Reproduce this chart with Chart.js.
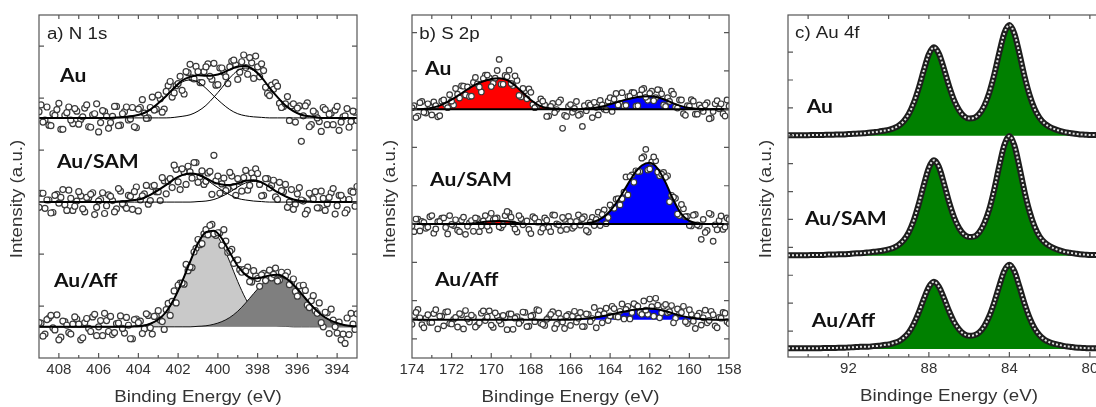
<!DOCTYPE html>
<html>
<head>
<meta charset="utf-8">
<script src="https://cdn.jsdelivr.net/npm/chart.js@4.4.1/dist/chart.umd.min.js"></script>
<style>
  html, body { margin: 0; padding: 0; background: #fff; overflow: hidden; }
  #wrap { position: relative; width: 1096px; height: 407px; overflow: hidden; }
  canvas { position: absolute; top: 0; }
</style>
</head>
<body>
<div id="wrap">
  <canvas id="panelA" width="370" height="407" style="left:0px"></canvas>
  <canvas id="panelB" width="375" height="407" style="left:372px"></canvas>
  <canvas id="panelC" width="400" height="407" style="left:748px"></canvas>
</div>
<script>
// ---- a) N 1s ----
const aEnergy = [
  409, 408.8, 408.6, 408.4, 408.2, 408, 407.8, 407.6, 407.4, 407.2,
  407, 406.8, 406.6, 406.4, 406.2, 406, 405.8, 405.6, 405.4, 405.2,
  405, 404.8, 404.6, 404.4, 404.2, 404, 403.8, 403.6, 403.4, 403.2,
  403, 402.8, 402.6, 402.4, 402.2, 402, 401.8, 401.6, 401.4, 401.2,
  401, 400.8, 400.6, 400.4, 400.2, 400, 399.8, 399.6, 399.4, 399.2,
  399, 398.8, 398.6, 398.4, 398.2, 398, 397.8, 397.6, 397.4, 397.2,
  397, 396.8, 396.6, 396.4, 396.2, 396, 395.8, 395.6, 395.4, 395.2,
  395, 394.8, 394.6, 394.4, 394.2, 394, 393.8, 393.6, 393.4, 393.2,
  393
];
const aEnergyMid = [
  408.9, 408.7, 408.5, 408.3, 408.1, 407.9, 407.7, 407.5, 407.3, 407.1,
  406.9, 406.7, 406.5, 406.3, 406.1, 405.9, 405.7, 405.5, 405.3, 405.1,
  404.9, 404.7, 404.5, 404.3, 404.1, 403.9, 403.7, 403.5, 403.3, 403.1,
  402.9, 402.7, 402.5, 402.3, 402.1, 401.9, 401.7, 401.5, 401.3, 401.1,
  400.9, 400.7, 400.5, 400.3, 400.1, 399.9, 399.7, 399.5, 399.3, 399.1,
  398.9, 398.7, 398.5, 398.3, 398.1, 397.9, 397.7, 397.5, 397.3, 397.1,
  396.9, 396.7, 396.5, 396.3, 396.1, 395.9, 395.7, 395.5, 395.3, 395.1,
  394.9, 394.7, 394.5, 394.3, 394.1, 393.9, 393.7, 393.5, 393.3, 393.1
];
const aFitEnergy = [
  409, 408.6, 408.2, 407.8, 407.4, 407, 406.6, 406.2, 405.8, 405.4,
  405, 404.6, 404.2, 403.8, 403.4, 403, 402.6, 402.2, 401.8, 401.4,
  401, 400.6, 400.2, 399.8, 399.4, 399, 398.6, 398.2, 397.8, 397.4,
  397, 396.6, 396.2, 395.8, 395.4, 395, 394.6, 394.2, 393.8, 393.4,
  393
];
const aAuPoints = [
  0.12, -0.08, 0.21, -0.15, 0.05, 0.28, -0.22, 0.10, -0.04, 0.18,
  -0.12, 0.02, 0.25, -0.18, 0.08, -0.27, 0.14, 0.03, -0.09, 0.22,
  -0.15, 0.08, 0.21, -0.02, -0.17, 0.17, 0.35, -0.01, 0.20, 0.15,
  0.44, 0.11, 0.51, 0.70, 0.48, 0.66, 0.53, 0.89, 1.03, 0.75,
  0.89, 0.68, 0.98, 0.80, 1.05, 0.64, 0.96, 0.79, 0.98, 1.11,
  0.74, 1.08, 0.97, 1.16, 0.76, 0.98, 1.04, 0.59, 0.43, 0.55,
  0.61, 0.20, 0.27, -0.05, 0.27, 0.19, -0.45, 0.23, -0.17, 0.13,
  0.00, -0.26, 0.16, 0.07, -0.13, 0.22, -0.08, 0.04, -0.18, 0.13,
  -0.05
];
const aAuPointsMid = [
  0.25, -0.04, -0.14, 0.08, 0.16, -0.22, 0.05, 0.21, -0.11, 0.13,
  -0.03, 0.19, -0.17, 0.06, 0.27, -0.09, 0.12, -0.20, 0.03, 0.22,
  -0.14, 0.12, -0.04, 0.20, -0.19, 0.20, 0.09, 0.00, 0.40, 0.17,
  0.37, 0.17, 0.62, 0.40, 0.62, 0.80, 0.46, 0.87, 0.77, 0.99,
  0.68, 0.89, 1.04, 0.74, 0.63, 0.96, 0.88, 0.66, 1.09, 1.02,
  0.88, 1.21, 0.84, 1.06, 1.19, 0.79, 0.91, 0.47, 0.63, 0.68,
  0.28, 0.22, 0.41, 0.23, -0.08, 0.23, 0.04, 0.29, -0.13, 0.09,
  -0.07, 0.20, -0.13, 0.09, 0.15, -0.24, 0.02, 0.18, -0.07, 0.11
];
const aAuComp1 = [
  0, 0, 0, 0, 0, 0, 0, 0, 0, 0,
  0.01, 0.02, 0.04, 0.08, 0.16, 0.28, 0.42, 0.57, 0.69, 0.73,
  0.69, 0.57, 0.42, 0.28, 0.16, 0.08, 0.04, 0.02, 0.01, 0,
  0, 0, 0, 0, 0, 0, 0, 0, 0, 0,
  0
];
const aAuComp2 = [
  0, 0, 0, 0, 0, 0, 0, 0, 0, 0,
  0, 0, 0, 0, 0, 0, 0, 0.01, 0.03, 0.06,
  0.13, 0.24, 0.40, 0.58, 0.77, 0.91, 0.96, 0.91, 0.77, 0.58,
  0.40, 0.24, 0.13, 0.06, 0.03, 0.01, 0, 0, 0, 0,
  0
];
const aAuFit = [
  0, 0, 0, 0, 0, 0, 0, 0, 0, 0,
  0.01, 0.02, 0.04, 0.08, 0.16, 0.28, 0.42, 0.58, 0.72, 0.79,
  0.82, 0.81, 0.82, 0.86, 0.93, 0.99, 1.00, 0.93, 0.78, 0.58,
  0.40, 0.24, 0.13, 0.06, 0.03, 0.01, 0, 0, 0, 0,
  0
];
const aSamPoints = [
  -0.10, 0.17, 0.04, -0.21, 0.13, -0.02, 0.24, -0.16, 0.07, -0.08,
  0.20, -0.13, 0.09, 0.15, -0.24, 0.02, 0.18, -0.07, 0.11, -0.19,
  0.26, -0.03, -0.12, 0.11, 0.20, -0.17, 0.12, 0.32, 0.03, 0.32,
  0.20, 0.47, 0.16, 0.45, 0.71, 0.39, 0.64, 0.34, 0.58, 0.76,
  0.38, 0.60, 0.40, 0.59, 0.90, 0.50, 0.35, 0.22, 0.57, 0.30,
  0.45, 0.21, 0.61, 0.32, 0.46, 0.55, 0.12, 0.45, 0.27, 0.42,
  0.05, 0.22, 0.34, 0.00, -0.14, 0.16, 0.04, -0.23, 0.17, 0.06,
  -0.11, 0.21, -0.16, 0.09, 0.26, -0.07, 0.13, -0.21, 0.05, 0.19,
  0.30
];
const aSamPointsMid = [
  0.17, -0.12, 0.04, -0.20, 0.15, 0.09, -0.05, 0.23, -0.16, 0.02,
  0.12, -0.19, 0.08, 0.18, -0.10, 0.05, -0.22, 0.14, 0.03, -0.13,
  0.21, -0.06, 0.13, -0.14, 0.29, 0.04, 0.16, -0.04, 0.30, 0.20,
  0.03, 0.41, 0.40, 0.28, 0.63, 0.24, 0.58, 0.69, 0.46, 0.76,
  0.49, 0.34, 0.56, 0.15, 0.41, 0.17, 0.46, 0.26, 0.50, 0.13,
  0.40, 0.47, 0.23, 0.56, 0.64, 0.34, 0.13, 0.45, 0.32, 0.10,
  0.38, 0.20, -0.10, 0.24, -0.04, 0.28, 0.02, -0.16, 0.13, 0.20,
  -0.11, 0.07, -0.03, 0.18, -0.23, 0.13, 0.06, -0.15, 0.21, -0.08
];
const aSamComp1 = [
  0, 0, 0, 0, 0, 0, 0, 0, 0, 0,
  0.01, 0.02, 0.04, 0.07, 0.14, 0.23, 0.33, 0.44, 0.52, 0.55,
  0.52, 0.44, 0.33, 0.23, 0.14, 0.07, 0.04, 0.02, 0.01, 0,
  0, 0, 0, 0, 0, 0, 0, 0, 0, 0,
  0
];
const aSamComp2 = [
  0, 0, 0, 0, 0, 0, 0, 0, 0, 0,
  0, 0, 0, 0, 0, 0, 0, 0, 0, 0,
  0.01, 0.02, 0.05, 0.11, 0.19, 0.29, 0.37, 0.40, 0.37, 0.29,
  0.19, 0.11, 0.05, 0.02, 0.01, 0, 0, 0, 0, 0,
  0
];
const aSamFit = [
  0, 0, 0, 0, 0, 0, 0, 0, 0, 0,
  0.01, 0.02, 0.04, 0.07, 0.14, 0.23, 0.33, 0.44, 0.52, 0.55,
  0.53, 0.46, 0.38, 0.34, 0.33, 0.36, 0.41, 0.42, 0.38, 0.29,
  0.19, 0.11, 0.05, 0.02, 0.01, 0, 0, 0, 0, 0,
  0
];
const aAffPoints = [
  0.08, -0.18, 0.14, 0.22, -0.06, -0.25, 0.11, 0.03, -0.14, 0.19,
  0.05, -0.21, 0.16, -0.09, 0.24, 0.00, -0.17, 0.12, 0.20, -0.11,
  0.07, -0.03, 0.18, -0.23, 0.14, 0.08, -0.13, 0.25, -0.02, 0.20,
  0.31, 0.10, 0.33, 0.22, 0.69, 0.80, 0.84, 1.20, 1.15, 1.44,
  1.68, 1.60, 1.87, 1.95, 1.79, 1.81, 1.57, 1.65, 1.45, 1.22,
  1.29, 1.05, 1.07, 0.87, 1.08, 0.93, 1.00, 0.89, 1.09, 1.01,
  0.88, 1.05, 0.98, 0.81, 0.92, 0.59, 0.68, 0.70, 0.37, 0.60,
  0.26, 0.08, 0.28, -0.13, 0.13, -0.12, -0.25, -0.32, -0.15, 0.05,
  0.25
];
const aAffPointsMid = [
  0.07, -0.14, 0.17, -0.02, 0.23, -0.20, 0.10, -0.11, 0.05, 0.15,
  -0.25, 0.08, -0.03, 0.19, -0.17, 0.12, 0.26, -0.09, -0.15, 0.06,
  0.21, -0.12, 0.03, -0.23, 0.15, 0.11, -0.04, 0.22, -0.14, 0.21,
  0.13, -0.05, 0.45, 0.49, 0.46, 0.84, 0.82, 1.08, 1.14, 1.51,
  1.58, 1.79, 1.77, 1.97, 1.76, 1.81, 1.87, 1.43, 1.49, 1.28,
  1.10, 1.10, 1.15, 0.86, 0.98, 0.78, 1.03, 0.99, 0.94, 1.13,
  0.90, 1.01, 1.05, 0.85, 0.68, 0.79, 0.80, 0.42, 0.50, 0.31,
  0.46, 0.00, 0.27, 0.34, 0.00, 0.09, -0.14, 0.17, 0.26, -0.05
];
const aAffLight = [
  0, 0, 0, 0, 0, 0, 0, 0, 0, 0,
  0, 0, 0.01, 0.02, 0.06, 0.14, 0.29, 0.54, 0.87, 1.25,
  1.60, 1.80, 1.80, 1.60, 1.25, 0.87, 0.54, 0.29, 0.14, 0.06,
  0.02, 0.01, 0, 0, 0, 0, 0, 0, 0, 0,
  0
];
const aAffDark = [
  0, 0, 0, 0, 0, 0, 0, 0, 0, 0,
  0, 0, 0, 0, 0, 0, 0, 0, 0, 0,
  0.01, 0.02, 0.05, 0.10, 0.18, 0.30, 0.46, 0.64, 0.81, 0.93,
  0.98, 0.93, 0.81, 0.64, 0.46, 0.30, 0.18, 0.10, 0.05, 0.02,
  0.01
];
const aAffFit = [
  0, 0, 0, 0, 0, 0, 0, 0, 0, 0,
  0, 0, 0.01, 0.02, 0.06, 0.14, 0.29, 0.54, 0.87, 1.25,
  1.61, 1.82, 1.85, 1.70, 1.43, 1.17, 1.00, 0.93, 0.95, 0.99,
  1.00, 0.94, 0.81, 0.64, 0.46, 0.30, 0.18, 0.10, 0.05, 0.02,
  0.01
];
const aTickLabels = [394, 396, 398, 400, 402, 404, 406, 408];

// ---- b) S 2p ----
const bEnergy = [
  174, 173.8, 173.6, 173.4, 173.2, 173, 172.8, 172.6, 172.4, 172.2,
  172, 171.8, 171.6, 171.4, 171.2, 171, 170.8, 170.6, 170.4, 170.2,
  170, 169.8, 169.6, 169.4, 169.2, 169, 168.8, 168.6, 168.4, 168.2,
  168, 167.8, 167.6, 167.4, 167.2, 167, 166.8, 166.6, 166.4, 166.2,
  166, 165.8, 165.6, 165.4, 165.2, 165, 164.8, 164.6, 164.4, 164.2,
  164, 163.8, 163.6, 163.4, 163.2, 163, 162.8, 162.6, 162.4, 162.2,
  162, 161.8, 161.6, 161.4, 161.2, 161, 160.8, 160.6, 160.4, 160.2,
  160, 159.8, 159.6, 159.4, 159.2, 159, 158.8, 158.6, 158.4, 158.2,
  158
];
const bEnergyMid = [
  173.9, 173.7, 173.5, 173.3, 173.1, 172.9, 172.7, 172.5, 172.3, 172.1,
  171.9, 171.7, 171.5, 171.3, 171.1, 170.9, 170.7, 170.5, 170.3, 170.1,
  169.9, 169.7, 169.5, 169.3, 169.1, 168.9, 168.7, 168.5, 168.3, 168.1,
  167.9, 167.7, 167.5, 167.3, 167.1, 166.9, 166.7, 166.5, 166.3, 166.1,
  165.9, 165.7, 165.5, 165.3, 165.1, 164.9, 164.7, 164.5, 164.3, 164.1,
  163.9, 163.7, 163.5, 163.3, 163.1, 162.9, 162.7, 162.5, 162.3, 162.1,
  161.9, 161.7, 161.5, 161.3, 161.1, 160.9, 160.7, 160.5, 160.3, 160.1,
  159.9, 159.7, 159.5, 159.3, 159.1, 158.9, 158.7, 158.5, 158.3, 158.1
];
const bFitEnergy = [
  174, 173.6, 173.2, 172.8, 172.4, 172, 171.6, 171.2, 170.8, 170.4,
  170, 169.6, 169.2, 168.8, 168.4, 168, 167.6, 167.2, 166.8, 166.4,
  166, 165.6, 165.2, 164.8, 164.4, 164, 163.6, 163.2, 162.8, 162.4,
  162, 161.6, 161.2, 160.8, 160.4, 160, 159.6, 159.2, 158.8, 158.4,
  158
];
const bAuPoints = [
  0.04, -0.22, 0.17, -0.08, 0.14, -0.15, 0.09, -0.17, 0.24, 0.04,
  0.21, 0.54, 0.29, 0.60, 0.58, 0.34, 0.83, 0.58, 0.80, 0.89,
  0.59, 0.81, 1.30, 0.65, 0.85, 0.67, 0.87, 0.36, 0.54, 0.27,
  0.44, 0.04, 0.13, 0.21, -0.19, 0.07, -0.09, 0.18, -0.50, -0.19,
  0.12, 0.02, -0.16, -0.45, -0.04, 0.11, 0.18, -0.15, 0.11, -0.02,
  0.30, 0.26, 0.11, 0.43, 0.10, 0.34, 0.43, 0.09, 0.51, 0.31,
  0.41, 0.22, 0.51, 0.40, 0.07, 0.20, 0.39, 0.03, 0.24, -0.16,
  0.08, 0.21, -0.13, 0.03, 0.11, -0.25, -0.06, 0.22, 0.14, -0.18,
  0.08
];
const bAuPointsMid = [
  0.09, -0.18, 0.20, -0.10, 0.06, 0.19, -0.20, 0.21, 0.12, 0.38,
  0.11, 0.39, 0.61, 0.37, 0.33, 0.70, 0.66, 0.45, 0.89, 0.82,
  0.68, 1.01, 0.65, 0.88, 1.02, 0.62, 0.75, 0.32, 0.48, 0.53,
  0.12, 0.07, 0.27, 0.11, -0.18, 0.15, -0.01, 0.24, -0.16, 0.07,
  -0.08, 0.20, -0.13, 0.09, 0.16, -0.22, 0.05, 0.23, 0.00, 0.21,
  -0.06, 0.41, 0.15, 0.08, 0.33, 0.44, 0.08, 0.37, 0.54, 0.23,
  0.47, 0.30, 0.50, 0.11, 0.30, 0.47, 0.06, 0.24, -0.12, 0.09,
  0.25, -0.13, 0.11, -0.06, 0.17, -0.23, 0.14, 0.01, -0.12, 0.24
];
const bAuRed = [
  0, 0, 0.02, 0.06, 0.14, 0.25, 0.38, 0.52, 0.64, 0.73,
  0.79, 0.81, 0.76, 0.62, 0.43, 0.24, 0.10, 0.03, 0.01, 0,
  0, 0, 0, 0, 0, 0, 0, 0, 0, 0,
  0, 0, 0, 0, 0, 0, 0, 0, 0, 0,
  0
];
const bAuBlue = [
  0, 0, 0, 0, 0, 0, 0, 0, 0, 0,
  0, 0, 0, 0, 0, 0, 0, 0, 0, 0,
  0, 0, 0.01, 0.03, 0.07, 0.13, 0.19, 0.25, 0.30, 0.33,
  0.34, 0.31, 0.24, 0.15, 0.08, 0.03, 0.01, 0, 0, 0,
  0
];
const bSamPoints = [
  -0.05, 0.13, -0.18, 0.04, -0.08, 0.22, -0.13, 0.07, 0.16, -0.26,
  -0.01, 0.11, -0.20, 0.18, -0.06, 0.09, 0.16, -0.20, 0.08, -0.06,
  0.28, 0.14, -0.07, -0.02, 0.33, 0.18, -0.13, 0.22, -0.02, 0.08,
  -0.25, 0.15, 0.05, -0.11, 0.10, -0.20, 0.23, -0.02, 0.17, -0.14,
  0.07, -0.06, 0.24, 0.14, -0.17, 0.05, -0.04, 0.31, 0.25, 0.01,
  0.50, 0.41, 0.66, 0.66, 1.23, 1.24, 1.09, 1.37, 1.72, 1.95,
  1.44, 1.75, 1.36, 1.30, 1.22, 0.58, 0.70, 0.26, 0.51, 0.19,
  -0.04, 0.23, -0.02, -0.40, -0.22, 0.28, -0.45, -0.15, 0.21, -0.08,
  0.12
];
const bSamPointsMid = [
  -0.20, 0.13, 0.07, -0.11, 0.19, -0.24, 0.06, 0.15, -0.09, 0.22,
  -0.04, -0.16, 0.10, -0.27, 0.03, -0.19, 0.14, -0.05, 0.22, -0.16,
  0.11, 0.16, -0.10, 0.22, 0.29, 0.00, -0.21, 0.14, 0.04, -0.14,
  0.19, 0.05, -0.21, 0.16, -0.09, 0.24, 0.00, -0.17, 0.12, 0.20,
  -0.11, 0.07, -0.03, 0.19, -0.21, 0.17, 0.12, -0.04, 0.37, 0.17,
  0.44, 0.65, 0.50, 0.83, 0.76, 1.28, 1.39, 1.37, 1.76, 1.41,
  1.62, 1.65, 1.26, 1.35, 1.26, 0.75, 0.67, 0.22, 0.40, 0.20,
  -0.05, 0.25, -0.05, 0.12, -0.17, 0.25, -0.02, 0.09, -0.14, 0.16
];
const bSamRed = [
  0, 0, 0, 0, 0, 0, 0, 0, 0.02, 0.05,
  0.07, 0.08, 0.07, 0.04, 0.01, 0, 0, 0, 0, 0,
  0, 0, 0, 0, 0, 0, 0, 0, 0, 0,
  0, 0, 0, 0, 0, 0, 0, 0, 0, 0,
  0
];
const bSamBlue = [
  0, 0, 0, 0, 0, 0, 0, 0, 0, 0,
  0, 0, 0, 0, 0, 0, 0, 0, 0, 0,
  0, 0, 0.02, 0.06, 0.16, 0.34, 0.62, 0.96, 1.30, 1.53,
  1.60, 1.45, 1.08, 0.62, 0.26, 0.08, 0.02, 0, 0, 0,
  0
];
const bAffPoints = [
  -0.12, 0.19, 0.05, -0.21, 0.13, -0.07, 0.26, 0.09, -0.16, 0.21,
  -0.11, 0.06, 0.16, -0.24, 0.02, 0.12, -0.19, -0.08, 0.23, 0.07,
  -0.14, 0.18, -0.02, 0.11, -0.26, 0.15, 0.04, -0.10, 0.20, -0.18,
  0.09, -0.05, 0.24, -0.12, 0.01, 0.14, -0.23, 0.17, -0.06, 0.10,
  -0.15, 0.22, 0.04, -0.18, 0.15, -0.05, 0.32, 0.13, -0.08, 0.30,
  0.10, 0.29, 0.07, 0.41, 0.27, 0.02, 0.42, 0.35, 0.14, 0.25,
  0.54, 0.09, 0.38, 0.18, 0.40, 0.21, -0.08, 0.28, 0.19, -0.05,
  0.26, -0.04, 0.10, -0.14, 0.25, -0.02, 0.13, -0.21, 0.04, 0.17,
  -0.10
];
const bAffPointsMid = [
  0.11, 0.27, -0.13, 0.04, -0.07, 0.16, -0.24, 0.09, 0.20, -0.10,
  0.01, -0.19, 0.13, 0.24, -0.06, 0.07, -0.14, 0.17, -0.02, 0.23,
  -0.20, 0.10, -0.11, 0.05, 0.15, -0.25, 0.08, -0.03, 0.19, -0.17,
  0.12, 0.26, -0.09, -0.15, 0.06, 0.21, -0.12, 0.03, -0.23, 0.14,
  0.09, -0.06, 0.19, -0.18, 0.14, 0.03, -0.21, 0.23, 0.16, -0.02,
  0.35, 0.08, 0.22, 0.02, 0.35, 0.19, 0.38, 0.19, 0.49, 0.14,
  0.34, 0.56, 0.05, 0.35, 0.18, 0.37, 0.04, 0.15, 0.35, -0.10,
  0.14, -0.23, 0.17, 0.05, -0.08, 0.22, -0.16, 0.06, 0.19, -0.05
];
const bAffBlue = [
  0, 0, 0, 0, 0, 0, 0, 0, 0, 0,
  0, 0, 0, 0, 0, 0, 0, 0, 0, 0,
  0, 0.01, 0.03, 0.05, 0.09, 0.13, 0.18, 0.22, 0.26, 0.28,
  0.29, 0.27, 0.22, 0.16, 0.10, 0.06, 0.03, 0.01, 0, 0,
  0
];
const bTickLabels = [158, 160, 162, 164, 166, 168, 170, 172, 174];

// ---- c) Au 4f ----
const cEnergy = [
  95, 94.75, 94.5, 94.25, 94, 93.75, 93.5, 93.25, 93, 92.75,
  92.5, 92.25, 92, 91.75, 91.5, 91.25, 91, 90.75, 90.5, 90.25,
  90, 89.75, 89.5, 89.25, 89, 88.75, 88.5, 88.25, 88, 87.75,
  87.5, 87.25, 87, 86.75, 86.5, 86.25, 86, 85.75, 85.5, 85.25,
  85, 84.75, 84.5, 84.25, 84, 83.75, 83.5, 83.25, 83, 82.75,
  82.5, 82.25, 82, 81.75, 81.5, 81.25, 81, 80.75, 80.5, 80.25,
  80, 79.75, 79.5, 79.25, 79
];
const cAu = [
  0.02, 0.02, 0.02, 0.02, 0.02, 0.03, 0.03, 0.03, 0.04, 0.04,
  0.05, 0.05, 0.06, 0.07, 0.08, 0.09, 0.11, 0.13, 0.15, 0.18,
  0.21, 0.27, 0.36, 0.52, 0.78, 1.18, 1.72, 2.35, 2.92, 3.17,
  2.94, 2.40, 1.79, 1.28, 0.92, 0.70, 0.62, 0.64, 0.78, 1.07,
  1.54, 2.20, 2.98, 3.68, 3.97, 3.66, 2.94, 2.14, 1.47, 0.97,
  0.64, 0.44, 0.32, 0.24, 0.18, 0.13, 0.10, 0.07, 0.05, 0.04,
  0.03, 0.03, 0.02, 0.02, 0.02
];
const cSam = [
  0.02, 0.02, 0.02, 0.02, 0.02, 0.03, 0.03, 0.03, 0.04, 0.04,
  0.05, 0.05, 0.06, 0.08, 0.09, 0.10, 0.12, 0.14, 0.16, 0.19,
  0.23, 0.29, 0.39, 0.56, 0.84, 1.27, 1.86, 2.54, 3.15, 3.42,
  3.18, 2.59, 1.93, 1.38, 0.99, 0.76, 0.67, 0.69, 0.84, 1.16,
  1.66, 2.38, 3.22, 3.97, 4.29, 3.95, 3.18, 2.31, 1.59, 1.05,
  0.69, 0.48, 0.35, 0.26, 0.19, 0.14, 0.11, 0.08, 0.05, 0.04,
  0.03, 0.03, 0.02, 0.02, 0.02
];
const cAff = [
  0.02, 0.02, 0.02, 0.02, 0.02, 0.02, 0.02, 0.03, 0.03, 0.03,
  0.04, 0.04, 0.05, 0.06, 0.07, 0.08, 0.08, 0.10, 0.11, 0.14,
  0.16, 0.21, 0.27, 0.40, 0.59, 0.90, 1.31, 1.79, 2.22, 2.41,
  2.23, 1.82, 1.36, 0.97, 0.70, 0.53, 0.47, 0.49, 0.59, 0.81,
  1.17, 1.67, 2.26, 2.80, 3.02, 2.78, 2.23, 1.63, 1.12, 0.74,
  0.49, 0.33, 0.24, 0.18, 0.14, 0.10, 0.08, 0.05, 0.04, 0.03,
  0.02, 0.02, 0.02, 0.02, 0.02
];
const cTickLabels = [80, 84, 88, 92];

const sampleNames = ['Au', 'Au/SAM', 'Au/Aff'];

// ---- drawing helpers ----
const SANS = '"Liberation Sans", Arial, sans-serif';
const BOLD = 'Lato, "Open Sans", sans-serif';
const TEXT = '#333';
const STRETCH = 1.17; // the figure is a bit wider than tall

function pts(energy, values, base) {
  return energy.map((e, i) => ({x: e, y: base + values[i]}));
}

function fillSet(energy, values, base, color, edge, order) {
  return {
    data: pts(energy, values, base),
    fill: {value: base},
    backgroundColor: color,
    borderColor: edge ? '#111' : 'rgba(0,0,0,0)',
    borderWidth: edge ? 1 : 0.01,
    pointRadius: 0,
    cubicInterpolationMode: 'monotone',
    order: order
  };
}

function lineSet(energy, values, base, width, color, dash, order) {
  return {
    data: pts(energy, values, base),
    fill: false,
    borderColor: color || '#000',
    borderWidth: width,
    borderDash: dash || [],
    pointRadius: 0,
    cubicInterpolationMode: 'monotone',
    order: order || 1
  };
}

function pointSet(energy, values, base, radius) {
  return {
    data: pts(energy, values, base),
    showLine: false,
    pointRadius: radius,
    pointBackgroundColor: '#fff',
    pointBorderColor: '#3a3a3a',
    pointBorderWidth: 1.2,
    order: 2
  };
}

function stretchedText(ctx, text, x, y, font, color, align, angle) {
  ctx.save();
  ctx.translate(x, y);
  if (angle) ctx.rotate(angle);
  ctx.scale(STRETCH, 1);
  ctx.font = font;
  ctx.fillStyle = color;
  ctx.textAlign = align;
  ctx.textBaseline = 'middle';
  ctx.fillText(text, 0, 0);
  ctx.restore();
}

function range(from, to, step) {
  const out = [];
  for (let v = from; v <= to; v += step) out.push(v);
  return out;
}

function panelPlugin(cfg) {
  return {
    id: 'panelDecor',
    afterDraw(chart) {
      const {ctx, chartArea: a, scales: {x, y}} = chart;
      ctx.save();
      ctx.strokeStyle = '#555';
      ctx.lineWidth = 1.2;
      ctx.strokeRect(a.left, a.top, a.right - a.left, a.bottom - a.top);
      ctx.beginPath();
      cfg.bottomTicks.forEach(v => {
        const px = x.getPixelForValue(v);
        const len = cfg.xLabels.includes(v) ? 5 : 3;
        ctx.moveTo(px, a.bottom);
        ctx.lineTo(px, a.bottom - len);
      });
      cfg.topTicks.forEach(v => {
        const px = x.getPixelForValue(v);
        ctx.moveTo(px, a.top);
        ctx.lineTo(px, a.top + 4);
      });
      cfg.yTicks.forEach(v => {
        const py = y.getPixelForValue(v);
        ctx.moveTo(a.left, py);
        ctx.lineTo(a.left + 5, py);
        ctx.moveTo(a.right, py);
        ctx.lineTo(a.right - 5, py);
      });
      ctx.stroke();

      stretchedText(ctx, cfg.tag, x.getPixelForValue(cfg.tagAt[0]), y.getPixelForValue(cfg.tagAt[1]),
          '16px ' + SANS, '#222', 'left');
      sampleNames.forEach((name, i) => {
        const at = cfg.nameAt[i];
        stretchedText(ctx, name, x.getPixelForValue(at[0]), y.getPixelForValue(at[1]),
            'bold 18px ' + BOLD, '#111', 'left');
      });
      stretchedText(ctx, cfg.xTitle, (a.left + a.right) / 2, a.bottom + 40,
          '16px ' + SANS, TEXT, 'center');
      stretchedText(ctx, 'Intensity (a.u.)', a.left - 21, 199,
          '16px ' + SANS, TEXT, 'center', -Math.PI / 2);
      ctx.restore();
    }
  };
}

function makeChart(id, cfg, datasets) {
  return new Chart(document.getElementById(id), {
    type: 'line',
    data: {datasets: datasets},
    options: {
      responsive: false,
      animation: false,
      devicePixelRatio: 1,
      events: [],
      layout: {padding: {top: 15, right: cfg.padRight, left: 0, bottom: 0}},
      plugins: {legend: {display: false}, tooltip: {enabled: false}},
      scales: {
        x: {
          type: 'linear',
          reverse: true,
          min: cfg.xMin,
          max: cfg.xMax,
          grid: {display: false, drawTicks: false},
          border: {display: false},
          ticks: {font: {family: SANS, size: 15}, color: TEXT, padding: 3, maxRotation: 0, autoSkip: false},
          afterBuildTicks: s => { s.ticks = cfg.xLabels.map(v => ({value: v})); },
          afterFit: s => { s.height = cfg.xHeight; }
        },
        y: {
          min: cfg.yMin,
          max: cfg.yMax,
          grid: {display: false, drawTicks: false},
          border: {display: false},
          ticks: {display: false},
          afterFit: s => { s.width = cfg.yWidth; }
        }
      }
    },
    plugins: [panelPlugin(cfg)]
  });
}

// ---- panel a ----
const aBase = [4.62, 3.0, 0.6];
makeChart('panelA', {
  xMin: 393, xMax: 409, yMin: 0, yMax: 6.6, yWidth: 39, padRight: 13, xHeight: 49,
  xLabels: aTickLabels, bottomTicks: range(394, 408, 1), topTicks: range(394, 408, 1),
  yTicks: [1, 2, 3, 4, 5, 6],
  tag: 'a) N 1s', tagAt: [408.6, 6.23],
  nameAt: [[407.94, 5.42], [408.1, 3.77], [408.25, 1.48]],
  xTitle: 'Binding Energy (eV)'
}, [
  fillSet(aFitEnergy, aAffLight, aBase[2], '#c9c9c9', true, 4),
  fillSet(aFitEnergy, aAffDark, aBase[2], '#7f7f7f', true, 3),
  pointSet(aEnergy, aAuPoints, aBase[0], 3),
  pointSet(aEnergyMid, aAuPointsMid, aBase[0], 3),
  pointSet(aEnergy, aSamPoints, aBase[1], 3),
  pointSet(aEnergyMid, aSamPointsMid, aBase[1], 3),
  pointSet(aEnergy, aAffPoints, aBase[2], 3),
  pointSet(aEnergyMid, aAffPointsMid, aBase[2], 3),
  lineSet(aFitEnergy, aAuComp1, aBase[0], 1),
  lineSet(aFitEnergy, aAuComp2, aBase[0], 1),
  lineSet(aFitEnergy, aAuFit, aBase[0], 2),
  lineSet(aFitEnergy, aSamComp1, aBase[1], 1),
  lineSet(aFitEnergy, aSamComp2, aBase[1], 1),
  lineSet(aFitEnergy, aSamFit, aBase[1], 2),
  lineSet(aFitEnergy, aAffFit, aBase[2], 2)
]);

// ---- panel b ----
const bBase = [6, 3, 0.5];
const RED = '#ff0000';
const BLUE = '#0000ff';
makeChart('panelB', {
  xMin: 158, xMax: 174, yMin: -0.5, yMax: 8.46, yWidth: 40, padRight: 18, xHeight: 49,
  xLabels: bTickLabels, bottomTicks: range(159, 173, 1), topTicks: range(159, 173, 1),
  yTicks: [0, 1, 2, 3, 4, 5, 6, 7, 8],
  tag: 'b) S 2p', tagAt: [173.63, 7.96],
  nameAt: [[173.34, 7.04], [173.09, 4.15], [172.84, 1.54]],
  xTitle: 'Bindinge Energy (eV)'
}, [
  fillSet(bFitEnergy, bAuRed, bBase[0], RED, false, 3),
  fillSet(bFitEnergy, bAuBlue, bBase[0], BLUE, false, 3),
  fillSet(bFitEnergy, bSamRed, bBase[1], RED, false, 3),
  fillSet(bFitEnergy, bSamBlue, bBase[1], BLUE, false, 3),
  fillSet(bFitEnergy, bAffBlue, bBase[2], BLUE, false, 3),
  pointSet(bEnergy, bAuPoints, bBase[0], 2.8),
  pointSet(bEnergyMid, bAuPointsMid, bBase[0], 2.8),
  pointSet(bEnergy, bSamPoints, bBase[1], 2.8),
  pointSet(bEnergyMid, bSamPointsMid, bBase[1], 2.8),
  pointSet(bEnergy, bAffPoints, bBase[2], 2.8),
  pointSet(bEnergyMid, bAffPointsMid, bBase[2], 2.8),
  lineSet(bFitEnergy, bAuRed, bBase[0], 2),
  lineSet(bFitEnergy, bAuBlue, bBase[0], 2),
  lineSet(bFitEnergy, bSamRed, bBase[1], 2),
  lineSet(bFitEnergy, bSamBlue, bBase[1], 2),
  lineSet(bFitEnergy, bAffBlue, bBase[2], 2)
]);

// ---- panel c ----
const cBase = [7.0, 2.7, -0.64];
const GREEN = '#008000';
const cSeries = [cAu, cSam, cAff];
const cSets = [];
cSeries.forEach((vals, i) => {
  cSets.push(fillSet(cEnergy, vals, cBase[i], GREEN, false, 3));
  cSets.push(lineSet(cEnergy, vals, cBase[i], 6, '#1e1e1e', null, 2));
  cSets.push(lineSet(cEnergy, vals, cBase[i], 2, '#e4e4e4', [2, 2], 1));
});
makeChart('panelC', {
  xMin: 79, xMax: 95, yMin: -0.93, yMax: 11.33, yWidth: 40, padRight: 38, xHeight: 50,
  xLabels: cTickLabels, bottomTicks: range(80, 94, 1), topTicks: range(80, 94, 2),
  yTicks: [0, 1, 2, 3, 4, 5, 6, 7, 8, 9, 10],
  tag: 'c) Au 4f', tagAt: [94.65, 10.65],
  nameAt: [[94.07, 8.04], [94.16, 4.02], [93.82, 0.34]],
  xTitle: 'Bindinge Energy (eV)'
}, cSets);
</script>
</body>
</html>
